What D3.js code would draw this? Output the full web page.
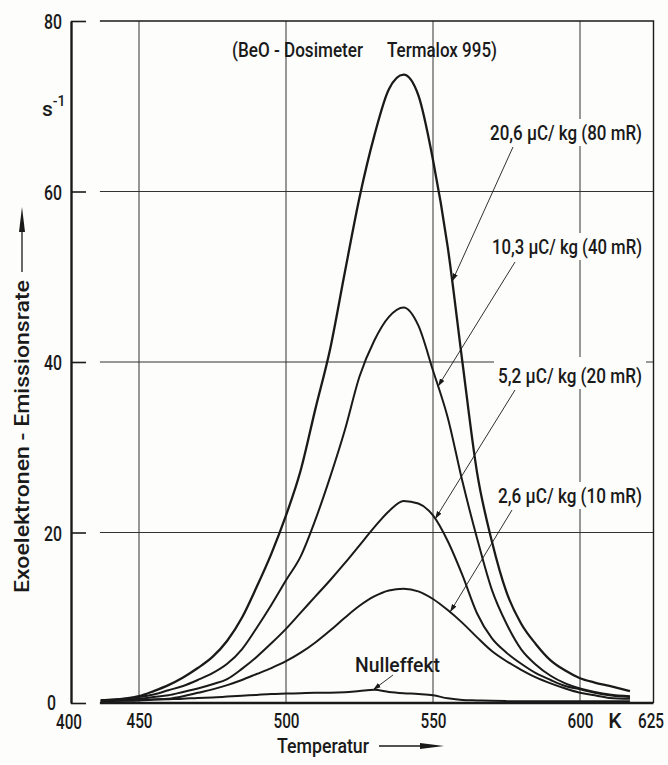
<!DOCTYPE html>
<html>
<head>
<meta charset="utf-8">
<script src="https://cdn.jsdelivr.net/npm/d3@7"></script>
<style>
  body { margin: 0; background: #fdfdfb; }
  text { font-family: Roboto, "DejaVu Sans", sans-serif; font-weight: 500; fill: #1a1a1a; }
</style>
</head>
<body>
<div id="chart"></div>
<script>
// temperatures (K) at which the curves were read
var temps = [437, 445, 450, 455, 460, 465, 470, 475, 480, 485, 490, 495, 500, 505, 510, 515,
             520, 525, 530, 535, 540, 545, 550, 555, 560, 565, 570, 575, 580, 585, 590, 595,
             600, 605, 610, 617];

// emission rate (1/s) per dose
var rate80 = [0.3, 0.5, 0.8, 1.4, 2.1, 3.0, 4.1, 5.4, 7.3, 10.0, 13.6, 17.5, 22.0, 27.3, 34.5, 41.5,
              50.5, 59.3, 66.5, 72.0, 73.7, 71.3, 63.7, 53.5, 40.0, 27.0, 19.0, 13.0, 9.3, 6.9, 5.0, 3.8,
              2.9, 2.4, 2.0, 1.4];
var rate40 = [0.3, 0.5, 0.7, 1.0, 1.5, 2.0, 2.7, 3.5, 4.6, 6.3, 8.8, 11.5, 14.4, 17.2, 21.5, 26.5,
              32.0, 38.3, 42.5, 45.3, 46.4, 44.3, 39.0, 33.5, 26.0, 19.3, 13.3, 9.3, 6.3, 4.5, 3.2, 2.3,
              1.7, 1.3, 1.0, 0.8];
var rate20 = [0.3, 0.4, 0.5, 0.7, 0.9, 1.3, 1.7, 2.2, 2.8, 4.0, 5.4, 7.0, 8.7, 10.6, 12.5, 14.4,
              16.4, 18.5, 20.6, 22.5, 23.7, 23.4, 22.0, 19.0, 15.0, 10.5, 7.6, 5.9, 4.6, 3.5, 2.7, 2.0,
              1.6, 1.2, 0.9, 0.7];
var rate10 = [0.2, 0.25, 0.3, 0.4, 0.5, 0.8, 1.2, 1.6, 2.1, 2.7, 3.4, 4.1, 4.9, 5.9, 7.1, 8.5,
              10.0, 11.4, 12.5, 13.2, 13.4, 13.1, 12.2, 10.9, 9.4, 7.7, 6.1, 4.9, 3.9, 3.0, 2.3, 1.7,
              1.2, 0.9, 0.6, 0.5];
var rate0 = [0.25, 0.3, 0.35, 0.4, 0.45, 0.5, 0.6, 0.65, 0.75, 0.85, 0.95, 1.05, 1.1, 1.15, 1.2, 1.2,
             1.25, 1.4, 1.55, 1.3, 1.15, 1.05, 0.9, 0.55, 0.35, 0.3, 0.25, 0.22, 0.2, 0.2, 0.2, 0.2,
             0.2, 0.2, 0.2, 0.2];

var seriesNames = ["20,6 µC/ kg (80 mR)", "10,3 µC/ kg (40 mR)", "5,2 µC/ kg (20 mR)",
                   "2,6 µC/ kg (10 mR)", "Nulleffekt"];
var seriesValues = [rate80, rate40, rate20, rate10, rate0];
// temperature on each curve where the label arrow points
var arrowTemps = [556.5, 551.7, 550.7, 555.8, 529.6];

var xTicks = [450, 500, 550, 600, 625],
    yTicks = [0, 20, 40, 60, 80],
    xStart = 436.7,     // left edge of the broken temperature axis
    xAxisOrigin = 400;  // value written at the y-axis foot

var width = 668,
    height = 765;

var svg = d3.select('#chart')
    .append('svg')
    .attr('width', width)
    .attr('height', height);

var x = d3.scaleLinear().domain([450, 625]).range([139, 653.5]),
    y = d3.scaleLinear().domain([0, 80]).range([703, 21]);

var ink = '#1a1a1a',
    fs = '21px';

function fit(sel, w) {
    return sel.attr('textLength', w).attr('lengthAdjust', 'spacingAndGlyphs');
}

// label layout (pixels): text start, baseline, width; leader start
var labelLayout = [
    {x: 490, y: 140, w: 152, lx: 513, ly: 147},
    {x: 492, y: 254, w: 150, lx: 515, ly: 262},
    {x: 498, y: 383, w: 144, lx: 515, ly: 390},
    {x: 498, y: 503, w: 144, lx: 512, ly: 510},
    {x: 355, y: 672, w: 85, lx: 393, ly: 675}
];

// grid
svg.append('g').selectAll('line')
    .data(xTicks.slice(0, 4))
    .enter().append('line')
    .attr('x1', function (d) { return x(d); })
    .attr('x2', function (d) { return x(d); })
    .attr('y1', y(80))
    .attr('y2', y(0))
    .attr('stroke', '#333')
    .attr('stroke-width', 1);

svg.append('g').selectAll('line')
    .data(yTicks.slice(1, 4))
    .enter().append('line')
    .attr('x1', x(xStart))
    .attr('x2', x(625))
    .attr('y1', function (d) { return y(d); })
    .attr('y2', function (d) { return y(d); })
    .attr('stroke', '#333')
    .attr('stroke-width', 1);

// frame: top and right
svg.append('path')
    .attr('d', 'M' + x(xStart) + ',' + y(80) + 'H' + x(625) + 'V' + y(0))
    .attr('fill', 'none')
    .attr('stroke', ink)
    .attr('stroke-width', 1.4);

// white patches behind the labels (they break the grid)
svg.append('g').selectAll('rect')
    .data(labelLayout.slice(0, 4))
    .enter().append('rect')
    .attr('x', function (d) { return d.x - 4; })
    .attr('y', function (d, i) { return i === 2 ? d.y - 26 : d.y - 21; })
    .attr('width', function (d) { return d.w + 8; })
    .attr('height', function (d, i) { return i === 2 ? 32 : 27; })
    .attr('fill', '#fdfdfb');

// curves
var line = d3.line()
    .x(function (d) { return x(d[0]); })
    .y(function (d) { return y(d[1]); })
    .curve(d3.curveMonotoneX);

svg.append('g').selectAll('path')
    .data(seriesValues)
    .enter().append('path')
    .attr('d', function (vals) {
        return line(temps.map(function (t, i) { return [t, vals[i]]; }));
    })
    .attr('fill', 'none')
    .attr('stroke', ink)
    .attr('stroke-width', function (d, i) { return i === 0 ? 2.3 : 2; })
    .attr('stroke-linejoin', 'round');

// bottom axis line
svg.append('line')
    .attr('x1', x(xStart))
    .attr('x2', x(625))
    .attr('y1', y(0))
    .attr('y2', y(0))
    .attr('stroke', ink)
    .attr('stroke-width', 2.6);

// y axis (separate spine with inward stubs)
var yAxis = svg.append('g')
    .attr('transform', 'translate(71,0)')
    .call(d3.axisLeft(y).tickValues(yTicks).tickSizeInner(-15).tickSizeOuter(0).tickPadding(9));
yAxis.select('.domain').attr('stroke', ink).attr('stroke-width', 2.4);
yAxis.selectAll('.tick line').attr('stroke', ink).attr('stroke-width', 1.6);
yAxis.selectAll('.tick text')
    .style('font-size', fs)
    .attr('fill', ink)
    .attr('dy', function (d) { return d === 0 ? '0.3em' : '0.36em'; })
    .attr('x', function (d) { return d === 0 ? -15 : -9; })
    .each(function (d) { fit(d3.select(this), String(d).length * 9); });

// x tick labels
var xAxis = svg.append('g')
    .attr('transform', 'translate(0,' + y(0) + ')')
    .call(d3.axisBottom(x).tickValues(xTicks).tickSize(0).tickPadding(10));
xAxis.select('.domain').remove();
xAxis.selectAll('.tick text')
    .style('font-size', fs)
    .attr('fill', ink)
    .attr('dy', '0.71em')
    .attr('x', function (d) { return d === 625 ? -3 : 0; })
    .each(function (d) { fit(d3.select(this), String(d).length * 8.7); });

fit(svg.append('text')
    .attr('x', 69)
    .attr('y', 729)
    .attr('text-anchor', 'middle')
    .style('font-size', fs)
    .text(xAxisOrigin), 26);

svg.append('text')
    .attr('x', 615)
    .attr('y', 728)
    .attr('text-anchor', 'middle')
    .style('font-size', fs)
    .text('K');

// unit s^-1
var unit = svg.append('text')
    .attr('x', 42)
    .attr('y', 116)
    .style('font-size', fs);
unit.append('tspan').text('s');
unit.append('tspan').attr('dy', -10).style('font-size', '14px').text('-1');

// axis titles
fit(svg.append('text')
    .attr('transform', 'translate(29,593) rotate(-90)')
    .style('font-size', fs)
    .text('Exoelektronen - Emissionsrate'), 313);
svg.append('line')
    .attr('x1', 22).attr('x2', 22)
    .attr('y1', 272).attr('y2', 228)
    .attr('stroke', ink).attr('stroke-width', 1.3);
svg.append('path')
    .attr('d', 'M19,232L22,207L25,232Z')
    .attr('fill', ink);

fit(svg.append('text')
    .attr('x', 277)
    .attr('y', 753)
    .style('font-size', fs)
    .text('Temperatur'), 92);
svg.append('line')
    .attr('x1', 379).attr('x2', 422)
    .attr('y1', 746).attr('y2', 746)
    .attr('stroke', ink).attr('stroke-width', 1.3);
svg.append('path')
    .attr('d', 'M420,743L444,746L420,749Z')
    .attr('fill', ink);

// title
fit(svg.append('text')
    .attr('x', 232).attr('y', 57)
    .style('font-size', fs)
    .text('(BeO - Dosimeter'), 131);
fit(svg.append('text')
    .attr('x', 387).attr('y', 57)
    .style('font-size', fs)
    .text('Termalox 995)'), 110);

// series labels with arrows
svg.append('defs').append('marker')
    .attr('id', 'tip')
    .attr('viewBox', '0 -3 8 6')
    .attr('refX', 8)
    .attr('markerWidth', 8)
    .attr('markerHeight', 6)
    .attr('markerUnits', 'userSpaceOnUse')
    .attr('orient', 'auto')
    .append('path')
    .attr('d', 'M0,-2.5L8,0L0,2.5Z')
    .attr('fill', ink);

var bis = d3.bisector(function (d) { return d; }).right;
function valueAt(vals, t) {
    var i = Math.min(Math.max(bis(temps, t), 1), temps.length - 1),
        f = (t - temps[i - 1]) / (temps[i] - temps[i - 1]);
    return vals[i - 1] + f * (vals[i] - vals[i - 1]);
}

seriesNames.forEach(function (name, i) {
    var L = labelLayout[i],
        t = arrowTemps[i];
    fit(svg.append('text')
        .attr('x', L.x)
        .attr('y', L.y)
        .style('font-size', fs)
        .text(name), L.w);
    svg.append('line')
        .attr('x1', L.lx)
        .attr('y1', L.ly)
        .attr('x2', x(t))
        .attr('y2', y(valueAt(seriesValues[i], t)))
        .attr('stroke', ink)
        .attr('stroke-width', 0.9)
        .attr('marker-end', 'url(#tip)');
});
</script>
</body>
</html>
